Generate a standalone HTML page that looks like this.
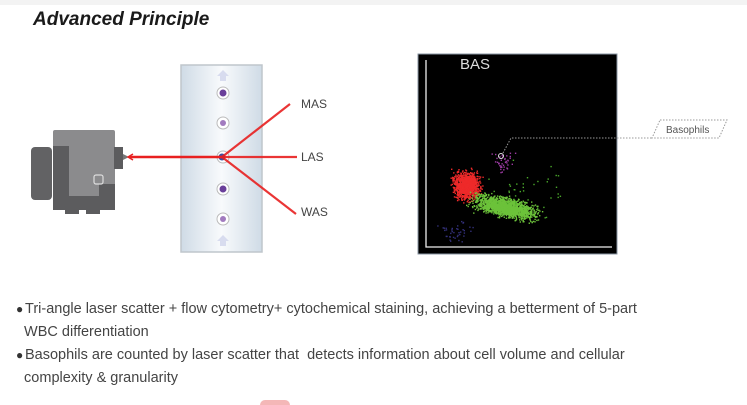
<!DOCTYPE html>
<html><head><meta charset="utf-8"><style>
body{margin:0;width:747px;height:405px;background:#fff;overflow:hidden;position:relative;font-family:"Liberation Sans",sans-serif}
.t{position:absolute;left:33px;top:9px;font:italic bold 19px "Liberation Sans",sans-serif;color:#1a1a1a}
.p{position:absolute;left:16px;font-size:14.5px;color:#444;line-height:23px}
.p b{font-weight:normal;display:inline-block;width:9px;font-size:12px;color:#333}
</style></head><body>
<div style="position:absolute;left:0;top:0;width:747px;height:5px;background:#f3f3f3"></div>
<div class="t">Advanced Principle</div>
<svg width="747" height="405" style="position:absolute;left:0;top:0">
<defs>
<linearGradient id="tube" x1="0" x2="1"><stop offset="0" stop-color="#cfdbe6"/><stop offset="0.5" stop-color="#f8fafc"/><stop offset="1" stop-color="#cfdbe6"/></linearGradient>
</defs>
<rect x="181" y="65" width="81" height="187" fill="url(#tube)" stroke="#bfc6cc" stroke-width="1.5"/>
<g fill="#d8dcef"><path d="M223 70l6 6h-3v5h-6v-5h-3z"/><path d="M223 235l6 6h-3v5h-6v-5h-3z"/></g>
<g stroke="#bbb" fill="#fff"><circle cx="223" cy="93" r="6"/><circle cx="223" cy="123" r="6"/><circle cx="223" cy="189" r="6"/><circle cx="223" cy="219" r="6"/><circle cx="223" cy="157" r="6"/></g>
<g fill="#6a3f9a"><circle cx="223" cy="93" r="3.5"/><circle cx="223" cy="189" r="3.5"/></g>
<g fill="#a27bbf"><circle cx="223" cy="123" r="3"/><circle cx="223" cy="219" r="3"/></g>
<circle cx="222" cy="157" r="3.5" fill="#3c4fa0"/>
<rect x="31" y="147" width="21" height="53" rx="4" fill="#626264"/>
<rect x="53" y="130" width="62" height="80" rx="2" fill="#8b8b8d"/>
<path d="M53 146h16v50h30v-12h16v26h-15v4h-14v-4h-7v4h-14v-4h-12z" fill="#5c5c5e"/>
<rect x="94" y="175" width="9" height="9" rx="2" fill="none" stroke="#ddd" stroke-width="1.2"/>
<rect x="114" y="147" width="9" height="22" fill="#5c5c5e"/>
<path d="M123 154l6 3-6 3z" fill="#777"/>
<line x1="129" y1="157" x2="222" y2="157" stroke="#e82020" stroke-width="2.5"/>
<path d="M133 154l-5 3 5 3" fill="none" stroke="#e82020" stroke-width="1.5"/>
<g stroke="#e82020" stroke-width="2.2" opacity=".9">
<line x1="222" y1="157" x2="290" y2="104"/>
<line x1="222" y1="157" x2="297" y2="157"/>
<line x1="222" y1="157" x2="296" y2="214"/>
</g>
<g font-size="12" fill="#444"><text x="301" y="108">MAS</text><text x="301" y="161">LAS</text><text x="301" y="216">WAS</text></g>
<rect x="418" y="54" width="199" height="200" fill="#000" stroke="#8a96a3" stroke-width="1"/>
<path d="M426 60V247H612" fill="none" stroke="#eee" stroke-width="1.3"/>
<text x="460" y="69" fill="#ddd" font-size="15">BAS</text>
<g id="dots"></g>
<circle cx="501" cy="156" r="2.5" fill="none" stroke="#ddd" stroke-width="1"/>
<path d="M503 153l8-15H652" fill="none" stroke="#999" stroke-dasharray="1.5 1.5"/>
<path d="M660 120H727L719 138H652Z" fill="#fff" stroke="#999" stroke-dasharray="1.5 1.5"/>
<text x="666" y="133" font-size="10" fill="#555">Basophils</text>
<rect x="260" y="400" width="30" height="10" rx="5" fill="#f4b7b7"/>
</svg>
<div class="p" style="top:298px"><b>●</b>Tri-angle laser scatter + flow cytometry+ cytochemical staining, achieving a betterment of 5-part<br>&nbsp;&nbsp;WBC differentiation</div>
<div class="p" style="top:344px"><b>●</b>Basophils are counted by laser scatter that&nbsp; detects information about cell volume and cellular<br>&nbsp;&nbsp;complexity &amp; granularity</div>
<script>
var s=7;function r(){s=(s*16807)%2147483647;return s/2147483647}
function g(){return (r()+r()+r()-1.5)/1.5}
var h='';
function blob(cx,cy,sx,sy,rot,n,c){for(var i=0;i<n;i++){var a=g()*sx,b=g()*sy,x=cx+a*Math.cos(rot)-b*Math.sin(rot),y=cy+a*Math.sin(rot)+b*Math.cos(rot);h+='<rect x="'+x.toFixed(1)+'" y="'+y.toFixed(1)+'" width="1.4" height="1.4" fill="'+c+'"/>'}}
blob(466,185,18,19,0,1100,'#ee2a2a');
blob(505,207,42,13,0.22,1700,'#6cc23a');
blob(502,162,14,16,0,40,'#9a3aa0');
blob(455,230,25,20,0,40,'#33307a');
blob(530,195,70,45,0,40,'#4aa82a');
document.getElementById('dots').innerHTML=h;
</script>
</body></html>
